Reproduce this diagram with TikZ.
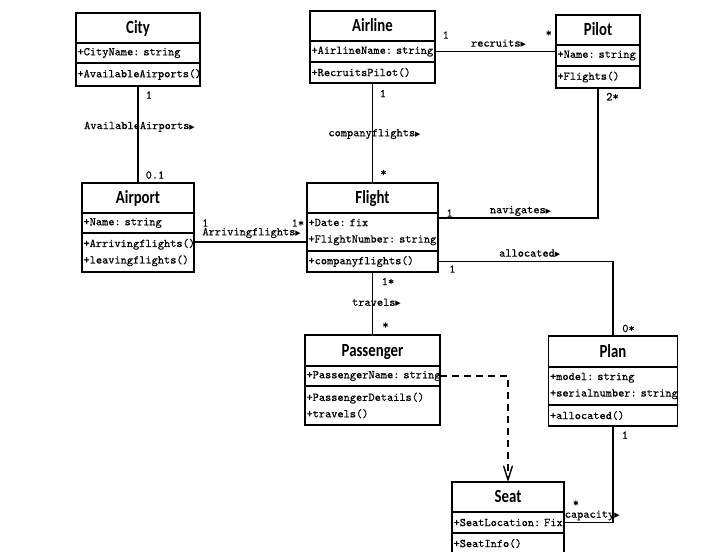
\documentclass[tikz,border=0pt]{standalone}
\usepackage{fontspec}
\usepackage{tikz}
\usetikzlibrary{arrows.meta,calc}
\newfontfamily\titlefont[FakeStretch=0.8]{Carlito}
\newfontfamily\memberfont{lmmono10-regular.otf}[FakeBold=0.5]
\newfontfamily\symfont{DejaVu Sans}
\newcommand{\titlesize}{\titlefont\bfseries\fontsize{18.5}{20}\selectfont}
\newcommand{\membersize}{\memberfont\fontsize{11.8}{16.5}\selectfont}
\newcommand{\dirtip}{{\symfont\fontsize{7}{7}\selectfont ▶}}
\tikzset{
  classname/.style 2 args={draw, line width=1.5pt, anchor=north west, outer sep=0pt,
    minimum width=#1, minimum height=#2, inner sep=0pt, text height=11.9pt, text depth=0pt,
    font=\titlesize},
  classpart/.style 2 args={draw, line width=1.5pt, anchor=north west, outer sep=0pt,
    minimum width=#1, text width=#1-3pt, minimum height=#2, inner xsep=1.5pt, inner ysep=0pt,
    align=left, font=\membersize},
  assoc/.style={line width=1.4pt},
  mult/.style={font=\membersize, inner sep=0pt},
}

\begin{document}
\begin{tikzpicture}[x=1pt,y=-1pt]
\useasboundingbox (0,0) rectangle (713,552);
\clip (0,0) rectangle (713,552);

% classes
\node[classname={124pt}{30pt}] (city) at (76,13) {City};
\node[classpart={124pt}{20pt}] (city-a) at (city.south west) {+CityName:~string};
\node[classpart={124pt}{23pt}] (city-m) at (city-a.south west) {+AvailableAirports()};

\node[classname={125pt}{30pt}] (airline) at (310,11) {Airline};
\node[classpart={125pt}{21pt}] (airline-a) at (airline.south west) {+AirlineName:~string};
\node[classpart={125pt}{21pt}] (airline-m) at (airline-a.south west) {+RecruitsPilot()};

\node[classname={84pt}{30pt}] (pilot) at (556,15) {Pilot};
\node[classpart={84pt}{21pt}] (pilot-a) at (pilot.south west) {+Name:~string};
\node[classpart={84pt}{22pt}] (pilot-m) at (pilot-a.south west) {+Flights()};

\node[classname={112pt}{30pt}] (airport) at (82,183) {Airport};
\node[classpart={112pt}{20pt}] (airport-a) at (airport.south west) {+Name:~string};
\node[classpart={112pt}{39pt}] (airport-m) at (airport-a.south west) {+Arrivingflights()\\+leavingflights()};

\node[classname={131pt}{30pt}] (flight) at (307,183) {Flight};
\node[classpart={131pt}{38pt}] (flight-a) at (flight.south west) {+Date:~fix\\+FlightNumber:~string};
\node[classpart={131pt}{21pt}] (flight-m) at (flight-a.south west) {+companyflights()};

\node[classname={135pt}{31pt}] (passenger) at (305,335) {Passenger};
\node[classpart={135pt}{20pt}] (passenger-a) at (passenger.south west) {+PassengerName:~string};
\node[classpart={135pt}{39pt}] (passenger-m) at (passenger-a.south west) {+PassengerDetails()\\+travels()};

\node[classname={129pt}{31pt}] (plan) at (548.5,336) {Plan};
\node[classpart={129pt}{38pt}] (plan-a) at (plan.south west) {+model:~string\\+serialnumber:~string};
\node[classpart={129pt}{21pt}] (plan-m) at (plan-a.south west) {+allocated()};

\node[classname={112pt}{30pt}] (seat) at (452,482) {Seat};
\node[classpart={112pt}{21pt}] (seat-a) at (seat.south west) {+SeatLocation:~Fix};
\node[classpart={112pt}{21pt}] (seat-m) at (seat-a.south west) {+SeatInfo()};

% associations
\draw[assoc] (city-m.south) -- (airport.north)
  node[mult, pos=0.093, xshift=11pt] (ca-1) {1}
  node[mult, pos=0.42, xshift=1.5pt] (ca-l) {AvailableAirports\dirtip}
  node[mult, pos=0.918, xshift=17pt] (ca-2) {0.1};

\draw[assoc] (airline-m.south) -- (flight.north)
  node[mult, pos=0.105, xshift=10.5pt] (af-1) {1}
  node[mult, pos=0.51, xshift=2pt] (af-l) {companyflights\dirtip}
  node[mult, pos=0.9, xshift=11pt] (af-2) {*};

\draw[assoc] (airline-a.east) -- (airline-a.east -| pilot.west)
  node[mult, pos=0.09, yshift=16.5pt] (ap-1) {1}
  node[mult, pos=0.525, yshift=8pt] (ap-l) {recruits\dirtip}
  node[mult, pos=0.94, yshift=18pt] (ap-2) {*};

\draw[assoc] (pilot-m.south) |- ([yshift=-5pt]flight-a.north east)
  node[mult, pos=0.033, xshift=14.5pt] (pf-1) {2*}
  node[mult, pos=0.742, yshift=7pt] (pf-l) {navigates\dirtip}
  node[mult, pos=0.964, yshift=5pt] (pf-2) {1};

\draw[assoc] (flight-m.east) -| (plan.north)
  node[mult, pos=0.041, yshift=-7.5pt] (fp-1) {1}
  node[mult, pos=0.262, yshift=8pt] (fp-l) {allocated\dirtip}
  node[mult, pos=0.949, xshift=15.5pt] (fp-2) {0*};

\draw[assoc] ([yshift=-9pt]airport-m.north east) -- ([yshift=-9pt]airport-m.north east -| flight.west)
  node[mult, pos=0.1, yshift=19pt] (pa-1) {1}
  node[mult, pos=0.51, yshift=9pt] (pa-l) {Arrivingflights\dirtip}
  node[mult, pos=0.92, yshift=19pt] (pa-2) {1*};

\draw[assoc] (flight-m.south) -- (passenger.north)
  node[mult, pos=0.15, xshift=15.5pt] (fg-1) {1*}
  node[mult, pos=0.487, xshift=4pt] (fg-l) {travels\dirtip}
  node[mult, pos=0.85, xshift=13pt] (fg-2) {*};

\draw[assoc] (plan-m.south) |- (seat-a.east)
  node[mult, pos=0.047, xshift=12pt] (ps-1) {1}
  node[mult, pos=0.879, yshift=19pt] (ps-2) {*}
  node[mult, pos=0.712, yshift=7pt] (ps-l) {capacity\dirtip};

% dependency
\draw[line width=1.4pt, dash pattern=on 7pt off 5pt, -{Straight Barb[length=14pt,width=9pt]}]
  (passenger-a.east) -| (seat.north);
\end{tikzpicture}
\end{document}
